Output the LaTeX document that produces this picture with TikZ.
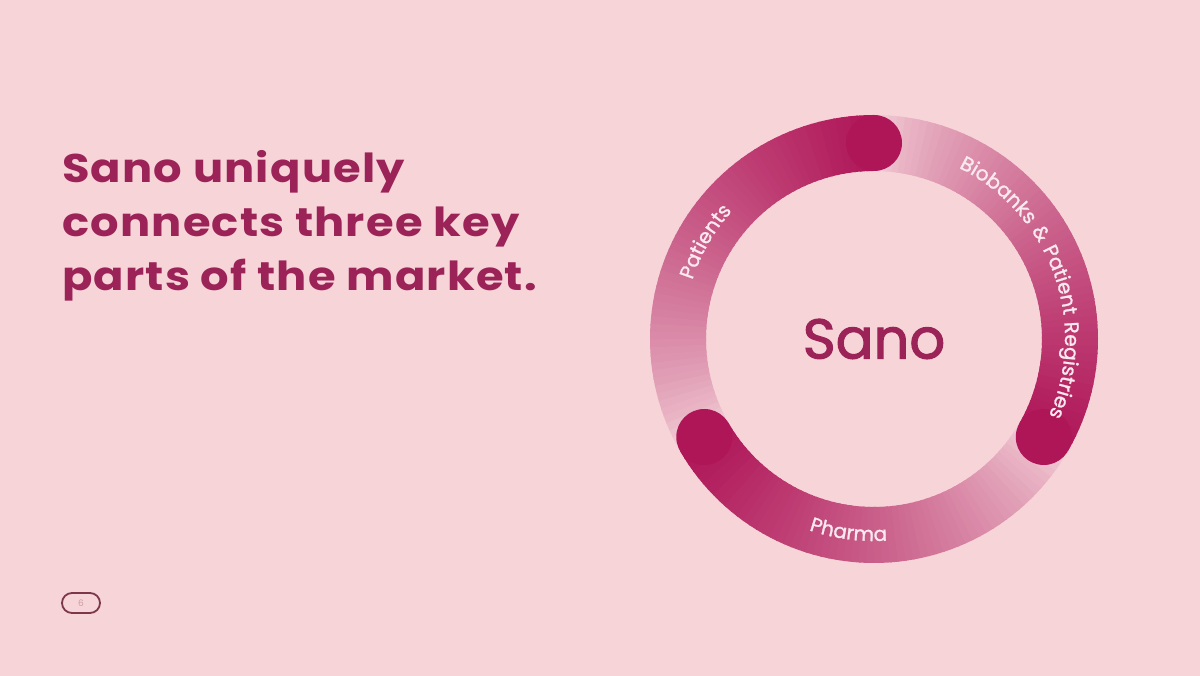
\documentclass[tikz,border=0pt]{standalone}
\usepackage{fontspec}
\setmainfont{Poppins}
\newfontfamily\titlefont[LetterSpace=3, FakeStretch=1.12]{Poppins}
\newfontfamily\ringfont[LetterSpace=7, FakeBold=1.2]{Poppins}
\newfontfamily\sanofont[FakeBold=2]{Poppins}
\usepackage{tikz}
\usetikzlibrary{decorations.text}
\definecolor{sanobg}{RGB}{247, 212, 215}
\definecolor{sanodark}{RGB}{175, 22, 88}
\definecolor{sanolight}{RGB}{244, 210, 217}
\definecolor{sanotitle}{RGB}{155, 35, 88}
\definecolor{sanolabel}{RGB}{250, 234, 240}
\definecolor{sanopill}{RGB}{125, 55, 75}

\begin{document}
\begin{tikzpicture}[x=1pt, y=1pt,
  ring/.style={line width=56},
  ringlabel/.style={decorate, decoration={text along path, text align=center, text color=sanolabel}}]
\fill[sanobg] (0,0) rectangle (1200,676);
\useasboundingbox (0,0) rectangle (1200,676);

% Headline
\node[anchor=base west, align=left, inner sep=0, text=sanotitle,
      font=\fontsize{40}{54}\titlefont\bfseries] (title) at (62,385)
  {Sano uniquely\\connects three key\\parts of the market.};

\coordinate (c) at (874,337);

% Three segments, dark at \a, fading counter-clockwise
\foreach \a in {90,210,330}
  \foreach \i in {0,...,59}{
    \pgfmathsetmacro{\p}{100*(1-\i/59)^0.7}
    \draw[ring, sanodark!\p!sanolight] (c) ++({\a+2*\i}:196)
      arc[start angle={\a+2*\i}, delta angle=2.6, radius=196];
  }

% Round dark ends
\foreach \a in {90,210,330}
  \fill[sanodark] (c) ++(\a:196) circle (28);

% Labels on the ring
\path[ringlabel, decoration={text={|\fontsize{20}{20}\ringfont|Patients}}]
  (c) ++(175:191) arc[start angle=175, end angle=125, radius=191];
\path[ringlabel, decoration={text={|\fontsize{20}{20}\ringfont|Biobanks {\&} Patient Registries}}]
  (c) ++(85:191) arc[start angle=85, end angle=-45, radius=191];
\path[ringlabel, decoration={text={|\fontsize{20}{20}\ringfont|Pharma}}]
  (c) ++(235:202) arc[start angle=235, end angle=290, radius=202];

% Centre
\node[text=sanotitle, font=\fontsize{56}{56}\sanofont] (sano) at (c) {Sano};

% Page number
\node[draw=sanopill, line width=1.8, rounded corners=10, minimum width=38, minimum height=20,
      inner sep=0, text=sanopill!35!sanobg, font=\fontsize{9}{9}\selectfont] (page) at (81,73) {6};
\end{tikzpicture}
\end{document}
